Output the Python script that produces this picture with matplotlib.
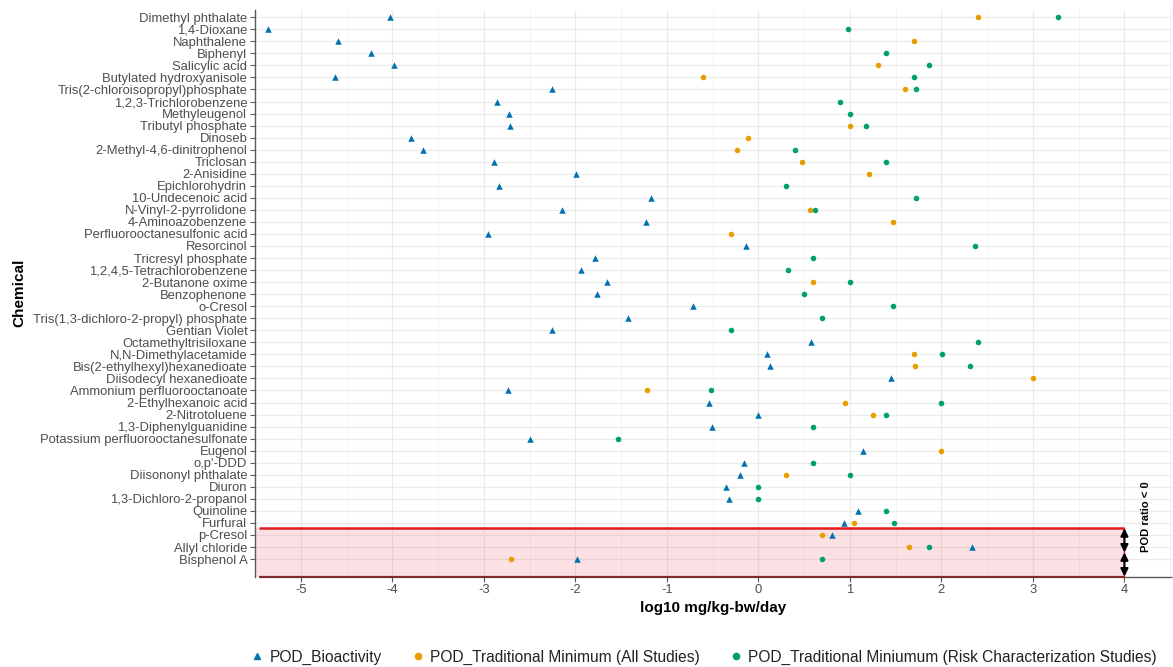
import numpy as np
import matplotlib.pyplot as plt
from matplotlib.lines import Line2D
from matplotlib.patches import Rectangle

plt.rcParams['font.family'] = ['Liberation Sans', 'DejaVu Sans']
plt.rcParams['axes.unicode_minus'] = False

nan = np.nan

# chemicals, top to bottom
chemicals = [
    'Dimethyl phthalate', '1,4-Dioxane', 'Naphthalene', 'Biphenyl', 'Salicylic acid',
    'Butylated hydroxyanisole', 'Tris(2-chloroisopropyl)phosphate', '1,2,3-Trichlorobenzene',
    'Methyleugenol', 'Tributyl phosphate', 'Dinoseb', '2-Methyl-4,6-dinitrophenol', 'Triclosan',
    '2-Anisidine', 'Epichlorohydrin', '10-Undecenoic acid', 'N-Vinyl-2-pyrrolidone',
    '4-Aminoazobenzene', 'Perfluorooctanesulfonic acid', 'Resorcinol', 'Tricresyl phosphate',
    '1,2,4,5-Tetrachlorobenzene', '2-Butanone oxime', 'Benzophenone', 'o-Cresol',
    'Tris(1,3-dichloro-2-propyl) phosphate', 'Gentian Violet', 'Octamethyltrisiloxane',
    'N,N-Dimethylacetamide', 'Bis(2-ethylhexyl)hexanedioate', 'Diisodecyl hexanedioate',
    'Ammonium perfluorooctanoate', '2-Ethylhexanoic acid', '2-Nitrotoluene',
    '1,3-Diphenylguanidine', 'Potassium perfluorooctanesulfonate', 'Eugenol', "o,p'-DDD",
    'Diisononyl phthalate', 'Diuron', '1,3-Dichloro-2-propanol', 'Quinoline', 'Furfural',
    'p-Cresol', 'Allyl chloride', 'Bisphenol A',
]

pod_bioactivity = [
    -4.03, -5.36, -4.59, -4.23, -3.98, -4.63, -2.26, -2.86, -2.73, -2.71,
    -3.79, -3.66, -2.89, -1.99, -2.83, -1.17, -2.15, -1.23, -2.95, -0.13,
    -1.78, -1.94, -1.65, -1.76, -0.71, -1.42, -2.26, 0.57, 0.09, 0.13,
    1.45, -2.74, -0.54, 0.00, -0.51, -2.49, 1.14, -0.16, -0.20, -0.35,
    -0.32, 1.09, 0.94, 0.80, 2.34, -1.98,
]

pod_trad_all = [
    2.40, nan, 1.70, nan, 1.31, -0.60, 1.60, nan, nan, 1.00,
    -0.11, -0.23, 0.48, 1.21, nan, nan, 0.56, 1.47, -0.30, nan,
    nan, nan, 0.60, nan, nan, nan, nan, nan, 1.70, 1.71,
    3.00, -1.22, 0.95, 1.25, nan, nan, 2.00, nan, 0.30, nan,
    nan, nan, 1.04, 0.70, 1.65, -2.70,
]

pod_trad_risk = [
    3.27, 0.98, nan, 1.40, 1.87, 1.70, 1.72, 0.89, 1.00, 1.18,
    nan, 0.40, 1.40, nan, 0.30, 1.72, 0.62, nan, nan, 2.37,
    0.60, 0.32, 1.00, 0.50, 1.47, 0.70, -0.30, 2.40, 2.01, 2.31,
    nan, -0.52, 2.00, 1.40, 0.60, -1.53, nan, 0.60, 1.00, 0.00,
    0.00, 1.40, 1.48, nan, 1.86, 0.70,
]

legend_labels = ['POD_Bioactivity', 'POD_Traditional Minimum (All Studies)',
                 'POD_Traditional Miniumum (Risk Characterization Studies)']
colors = ['#0072B2', '#E69F00', '#009E73']

n = len(chemicals)
ypos = np.arange(n, 0, -1)

W, H = 1173, 667
fig = plt.figure(figsize=(W / 100, H / 100), dpi=100)
ax = fig.add_axes([255 / W, 90.5 / H, (1172 - 255) / W, 566.5 / H])
x0, x1 = -5.46, 4.52
y0, y1 = -0.45, 46.6
ax.set_xlim(x0, x1)
ax.set_ylim(y0, y1)

# grid
ax.set_xticks(range(-5, 5))
ax.set_xticks(np.arange(-5.5, 5, 1), minor=True)
ax.set_yticks(ypos)
ax.set_yticklabels(chemicals)
ax.grid(which='major', color='#ebebeb', lw=0.9)
ax.grid(which='minor', axis='x', color='#f3f3f3', lw=0.6)
ax.set_axisbelow(True)

for s in ['top', 'right']:
    ax.spines[s].set_visible(False)
ax.spines['left'].set_color('#5a5a5a')
ax.spines['left'].set_linewidth(1.0)
ax.spines['bottom'].set_visible(False)
ax.tick_params(which='major', length=3.5, width=0.8, color='#5a5a5a',
               labelcolor='#4d4d4d', labelsize=9.4, pad=2)
ax.tick_params(which='minor', length=0)

# POD ratio < 0 region
y_top = 3.55
ax.add_patch(Rectangle((x0 - 1, y0 - 1), 4 - x0 + 1, y_top - y0 + 1,
                       facecolor=(0.93, 0.1, 0.2, 0.13), edgecolor='none', zorder=1))
ax.plot([x0, 4], [y_top, y_top], color='#e31a1c', lw=1.8, zorder=2,
        solid_capstyle='butt', clip_on=False)
ax.plot([4, 4], [y0, y_top], color='#e31a1c', lw=1.0, zorder=2, clip_on=False)
# x axis line: dark red under the region, grey to the right of it
ax.plot([x0, 4], [y0, y0], color='#7d2b2e', lw=1.6, zorder=4,
        solid_capstyle='butt', clip_on=False)
ax.plot([4, x1], [y0, y0], color='#5a5a5a', lw=1.0, zorder=4,
        solid_capstyle='butt', clip_on=False)

ax.scatter(pod_bioactivity, ypos, marker='^', s=22, color=colors[0], lw=0, zorder=3)
ax.scatter(pod_trad_all, ypos, marker='o', s=16, color=colors[1], lw=0, zorder=3)
ax.scatter(pod_trad_risk, ypos, marker='o', s=16, color=colors[2], lw=0, zorder=3)

arrow = dict(arrowstyle='<|-|>', color='black', lw=1.5, mutation_scale=11,
             shrinkA=0, shrinkB=0)
ax.annotate('', xy=(4, y_top), xytext=(4, 1.55), arrowprops=arrow, annotation_clip=False)
ax.annotate('', xy=(4, 1.55), xytext=(4, y0), arrowprops=arrow, annotation_clip=False)
ax.text(4.24, 4.49, 'POD ratio < 0', rotation=90, fontsize=8, fontweight='bold',
        ha='center', va='center')

fig.text(19 / W, 1 - 293 / H, 'Chemical', rotation=90, fontsize=11, fontweight='bold',
         ha='center', va='center')
fig.text(713 / W, 1 - 608 / H, 'log10 mg/kg-bw/day', fontsize=11, fontweight='bold',
         ha='center', va='center')

handles = [
    Line2D([], [], marker='^', ls='', color=colors[0], ms=5),
    Line2D([], [], marker='o', ls='', color=colors[1], ms=4.5),
    Line2D([], [], marker='o', ls='', color=colors[2], ms=4.5),
]
leg = fig.legend(handles, legend_labels, loc='center', bbox_to_anchor=(703 / W, 1 - 657 / H),
                 ncol=3, frameon=False, fontsize=11.2, handletextpad=0.3,
                 columnspacing=1.8, handlelength=1.0)
for t in leg.get_texts():
    t.set_color('#222222')

fig.savefig('out.png', dpi=100)
